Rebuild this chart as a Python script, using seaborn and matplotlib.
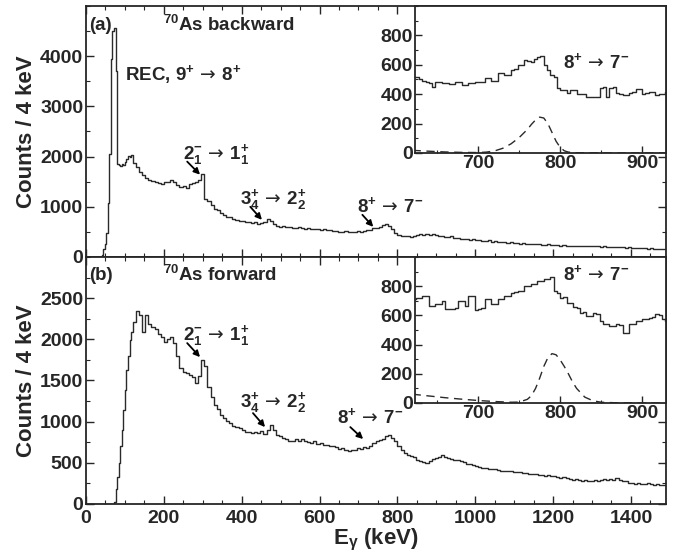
import numpy as np
import matplotlib
matplotlib.use("Agg")
import matplotlib.pyplot as plt
from matplotlib.ticker import MultipleLocator
import seaborn as sns

# main spectra: 4 keV bins from 0 to 120 keV, then 8 keV bins
back_fine = [0, 0, 0, 0, 0, 0, 0, 0, 0, 0,
             40, 150, 250, 480, 1070, 2050, 3950, 4500, 4570, 3700,
             1850, 1840, 1820, 1860, 1830, 1900, 1960, 2010, 2000, 2030]
back_coarse = [1880, 1790, 1700, 1640, 1580, 1540, 1520, 1490, 1470, 1460,
               1500, 1490, 1540, 1500, 1440, 1400, 1420, 1380, 1450, 1470,
               1500, 1540, 1650, 1150, 1120, 1040, 960, 940, 880, 830,
               800, 790, 760, 730, 710, 720, 700, 690, 670, 690,
               660, 680, 700, 750, 720, 660, 620, 600, 610, 590,
               600, 580, 570, 590, 570, 560, 570, 550, 560, 550,
               540, 560, 530, 540, 520, 510, 490, 500, 510, 490,
               500, 490, 510, 500, 520, 540, 530, 570, 580, 600,
               630, 650, 620, 550, 470, 440, 420, 410, 420, 400,
               410, 440, 460, 430, 450, 440, 450, 430, 420, 410,
               400, 390, 410, 380, 370, 360, 350, 360, 340, 350,
               330, 340, 320, 310, 330, 300, 310, 300, 290, 300,
               280, 290, 270, 280, 265, 270, 260, 265, 255, 250,
               260, 245, 240, 250, 235, 240, 230, 225, 230, 220,
               225, 215, 220, 225, 215, 220, 210, 215, 220, 210,
               205, 210, 200, 205, 195, 200, 190, 195, 185, 190,
               180, 185, 175, 170, 175, 165, 170, 160, 165, 155,
               160]

fwd_fine = [0, 0, 0, 0, 0, 0, 0, 0, 0, 0,
            0, 0, 0, 0, 0, 0, 0, 0, 30, 180,
            330, 500, 700, 900, 1140, 1380, 1630, 1800, 1990, 2090]
fwd_coarse = [2210, 2350, 2290, 2090, 2290, 2190, 2150, 2120, 2060, 2030,
              1970, 2000, 2030, 1960, 1800, 1650, 1600, 1590, 1570, 1540,
              1470, 1560, 1750, 1680, 1420, 1300, 1200, 1150, 1080, 1050,
              1010, 980, 950, 930, 920, 900, 880, 870, 860, 880,
              860, 890, 850, 900, 960, 900, 840, 820, 800, 790,
              770, 770, 790, 770, 790, 760, 750, 740, 760, 730,
              740, 720, 720, 700, 710, 690, 670, 680, 660, 640,
              660, 650, 680, 670, 690, 680, 710, 740, 760, 780,
              790, 820, 840, 800, 760, 700, 650, 620, 600, 580,
              570, 540, 520, 510, 500, 520, 550, 560, 570, 590,
              570, 560, 550, 540, 530, 520, 510, 490, 480, 470,
              460, 450, 440, 440, 430, 420, 430, 410, 405, 400,
              395, 400, 390, 385, 390, 380, 375, 370, 365, 360,
              350, 355, 345, 350, 340, 335, 330, 320, 325, 310,
              300, 295, 300, 290, 285, 290, 280, 285, 290, 280,
              295, 300, 290, 305, 295, 310, 290, 280, 275, 260,
              250, 240, 250, 245, 240, 250, 245, 235, 240, 230,
              225]

# insets: 4 keV bins starting at 620 keV
back_zoom = [520, 515, 500, 490, 485, 478, 448, 480, 482, 475,
             478, 470, 466, 484, 484, 462, 462, 478, 476, 484,
             486, 484, 512, 512, 492, 490, 545, 545, 528, 530,
             566, 568, 596, 598, 630, 628, 620, 642, 652, 658,
             600, 564, 532, 520, 440, 428, 426, 406, 428, 426,
             400, 402, 404, 382, 384, 382, 384, 440, 446, 384,
             445, 446, 406, 404, 394, 394, 410, 418, 436, 438,
             404, 406, 414, 416, 396, 400, 404, 416, 372]
fwd_zoom = [715, 720, 722, 730, 734, 664, 666, 676, 676, 700,
            642, 644, 646, 650, 700, 698, 664, 734, 736, 640,
            646, 648, 710, 712, 676, 678, 710, 712, 734, 732,
            756, 758, 768, 770, 802, 800, 814, 816, 838, 836,
            848, 850, 862, 770, 756, 722, 724, 688, 686, 654,
            652, 618, 620, 596, 598, 614, 612, 562, 538, 540,
            526, 528, 538, 536, 480, 482, 538, 540, 562, 560,
            572, 574, 584, 586, 608, 606, 572, 562, 560]

# fitted peak curves (dashed)
back_fit_e = [620, 640, 660, 680, 700, 710, 720, 730, 740, 750, 760, 765, 770,
              775, 780, 785, 790, 795, 800, 805, 810, 820, 840, 870, 900, 936]
back_fit_y = [18, 12, 7, 4, 3, 6, 14, 32, 62, 105, 160, 195, 225,
              244, 238, 200, 140, 80, 38, 15, 6, 2, 1, 0, 0, 0]
fwd_fit_e = [620, 640, 660, 680, 700, 720, 740, 750, 760, 765, 770, 775, 780, 785,
             790, 795, 800, 805, 810, 815, 820, 825, 830, 840, 850, 870, 900, 936]
fwd_fit_y = [60, 48, 36, 26, 17, 10, 5, 6, 25, 50, 100, 170, 250, 310,
             338, 330, 295, 250, 200, 145, 100, 70, 40, 15, 5, 1, 0, 0]


def main_edges(fine, coarse):
    e1 = np.arange(len(fine)) * 4
    e2 = 120 + np.arange(len(coarse) + 1) * 8
    return np.concatenate([e1, e2])


def zoom_edges(vals):
    return 620 + np.arange(len(vals) + 1) * 4


def draw_hist(ax, edges, vals):
    # step outline: each value held from its left edge to the next edge
    sns.lineplot(x=edges, y=list(vals) + [vals[-1]], drawstyle="steps-post",
                 estimator=None, color="#2a2a2a", linewidth=1.0, ax=ax)


sns.set_style("ticks")
plt.rcParams['font.family'] = ['Liberation Sans', 'DejaVu Sans']
plt.rcParams['font.weight'] = 'bold'
plt.rcParams['mathtext.fontset'] = 'custom'
plt.rcParams['mathtext.rm'] = 'Liberation Sans:bold'
plt.rcParams['mathtext.it'] = 'Liberation Sans:bold'
plt.rcParams['mathtext.bf'] = 'Liberation Sans:bold'
plt.rcParams['mathtext.sf'] = 'DejaVu Sans:normal'
plt.rcParams['axes.linewidth'] = 1.3

fs = 13.5     # annotation text
tfs = 14      # tick labels
ARR = r"$\,\mathsf{\rightarrow}\,$"

fig = plt.figure(figsize=(6.83, 5.6), dpi=100)
ax_a = fig.add_axes([0.1259, 0.5411, 0.8492, 0.4482])
ax_b = fig.add_axes([0.1259, 0.1000, 0.8492, 0.4411])
in_a = fig.add_axes([0.6076, 0.7268, 0.3675, 0.2625])
in_b = fig.add_axes([0.6076, 0.2804, 0.3675, 0.2607])

draw_hist(ax_a, main_edges(back_fine, back_coarse), back_fine + back_coarse)
draw_hist(ax_b, main_edges(fwd_fine, fwd_coarse), fwd_fine + fwd_coarse)
draw_hist(in_a, zoom_edges(back_zoom), back_zoom)
draw_hist(in_b, zoom_edges(fwd_zoom), fwd_zoom)
sns.lineplot(x=back_fit_e, y=back_fit_y, ax=in_a, color="#2a2a2a", linewidth=1.0,
             linestyle=(0, (6, 4)))
sns.lineplot(x=fwd_fit_e, y=fwd_fit_y, ax=in_b, color="#2a2a2a", linewidth=1.0,
             linestyle=(0, (6, 4)))

for ax in (ax_a, ax_b):
    ax.set_xlim(0, 1490)
    ax.xaxis.set_major_locator(MultipleLocator(200))
    ax.xaxis.set_minor_locator(MultipleLocator(50))
    ax.set_ylabel("Counts / 4 keV", fontsize=16, fontweight='bold', labelpad=2)
    ax.tick_params(which='both', direction='in', top=True, right=True, labelsize=tfs, pad=2)
    ax.tick_params(which='major', length=6, width=1.0)
    ax.tick_params(which='minor', length=3, width=0.8)

ax_a.set_ylim(0, 5000)
ax_a.set_yticks([0, 1000, 2000, 3000, 4000])
ax_a.yaxis.set_minor_locator(MultipleLocator(500))
ax_a.tick_params(labelbottom=False)
ax_a.set_xlabel("")

ax_b.set_ylim(0, 3000)
ax_b.set_yticks([0, 500, 1000, 1500, 2000, 2500])
ax_b.yaxis.set_minor_locator(MultipleLocator(250))
ax_b.tick_params(axis='x', which='both', pad=4)
ax_b.set_xlabel(r"E$_{\gamma}$ (keV)", fontsize=16, fontweight='bold', labelpad=0)

for ax in (in_a, in_b):
    ax.set_xlim(623, 929)
    ax.set_ylim(0, 1000)
    ax.set_xticks([700, 800, 900])
    ax.xaxis.set_minor_locator(MultipleLocator(50))
    ax.set_yticks([0, 200, 400, 600, 800])
    ax.yaxis.set_minor_locator(MultipleLocator(100))
    ax.tick_params(which='both', direction='in', labelsize=tfs, pad=1.5)
    ax.tick_params(which='major', length=5, width=1.0)
    ax.tick_params(which='minor', length=2.5, width=0.8)
    ax.set_xlabel("")
    ax.set_ylabel("")
    ax.set_facecolor("white")

tkw = dict(fontsize=fs, fontweight='bold', va='center', ha='left')
arrow = dict(arrowstyle='-|>', color='black', lw=1.3, mutation_scale=9, shrinkA=0, shrinkB=0)

in_a.text(804, 617, r"$8^{+}$" + ARR + r"$7^{-}$", **tkw)
in_b.text(804, 883, r"$8^{+}$" + ARR + r"$7^{-}$", **tkw)

ax_a.text(0.005, 0.924, "(a)", transform=ax_a.transAxes, **tkw)
ax_a.text(0.133, 0.924, r"$^{70}$As backward", transform=ax_a.transAxes, **tkw)
ax_a.text(100, 3640, r"REC, $9^{+}$" + ARR + r"$8^{+}$", **tkw)
ax_a.text(249, 2040, r"$2^{-}_{1}$" + ARR + r"$1^{+}_{1}$", **tkw)
ax_a.text(396, 1140, r"$3^{+}_{4}$" + ARR + r"$2^{+}_{2}$", **tkw)
ax_a.text(697, 1006, r"$8^{+}$" + ARR + r"$7^{-}$", **tkw)
ax_a.annotate("", xy=(293, 1640), xytext=(260, 1900), arrowprops=arrow)
ax_a.annotate("", xy=(452, 740), xytext=(422, 1000), arrowprops=arrow)
ax_a.annotate("", xy=(738, 600), xytext=(710, 840), arrowprops=arrow)

ax_b.text(0.005, 0.927, "(b)", transform=ax_b.transAxes, **tkw)
ax_b.text(0.133, 0.927, r"$^{70}$As forward", transform=ax_b.transAxes, **tkw)
ax_b.text(249, 2050, r"$2^{-}_{1}$" + ARR + r"$1^{+}_{1}$", **tkw)
ax_b.text(396, 1238, r"$3^{+}_{4}$" + ARR + r"$2^{+}_{2}$", **tkw)
ax_b.text(645, 1056, r"$8^{+}$" + ARR + r"$7^{-}$", **tkw)
ax_b.annotate("", xy=(293, 1784), xytext=(260, 1954), arrowprops=arrow)
ax_b.annotate("", xy=(460, 934), xytext=(429, 1104), arrowprops=arrow)
ax_b.annotate("", xy=(712, 789), xytext=(679, 934), arrowprops=arrow)

fig.savefig("out.png", dpi=100)
